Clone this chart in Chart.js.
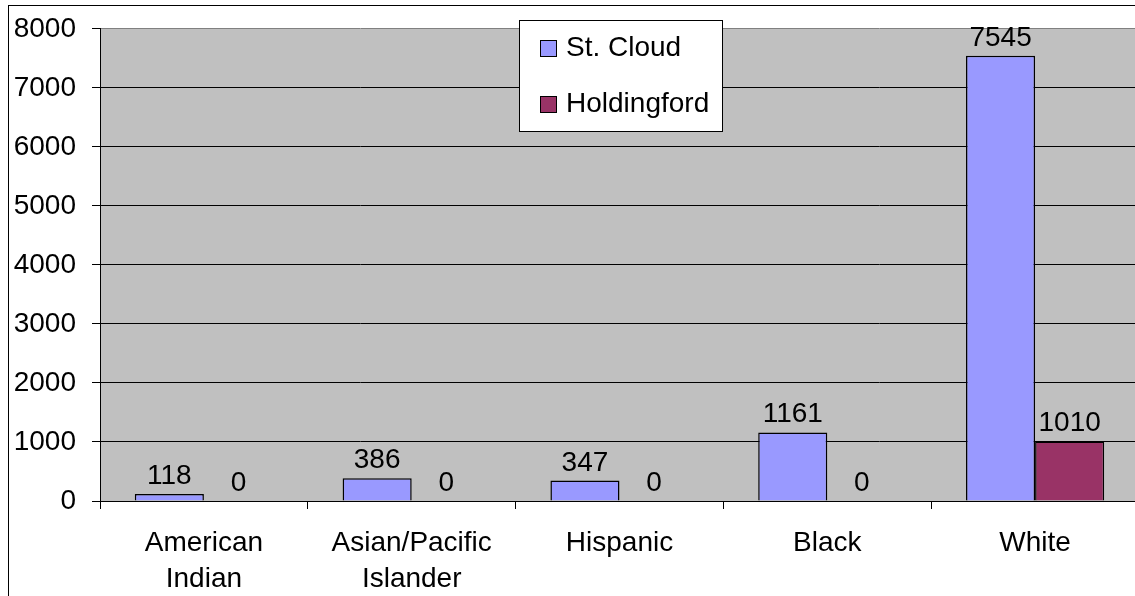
<!DOCTYPE html>
<html>
<head>
<meta charset="utf-8">
<script src="https://cdn.jsdelivr.net/npm/chart.js@4.4.1/dist/chart.umd.min.js"></script>
<style>
    html, body { margin: 0; padding: 0; background: #fff; }
    #wrap { position: relative; width: 1135px; height: 596px; overflow: hidden; }
    #frame { position: absolute; left: 8px; top: 5px; width: 1200px; height: 700px;
             border-left: 1px solid #000; border-top: 1px solid #000; }
    #chart { position: absolute; left: 0; top: -4px; }
</style>
</head>
<body>
<div id="wrap">
    <div id="frame"></div>
    <canvas id="chart" width="1139" height="600"></canvas>
</div>
<script>
const categories = [['American', 'Indian'], ['Asian/Pacific', 'Islander'], 'Hispanic', 'Black', 'White'];
const stCloud = [118, 386, 347, 1161, 7545];
const holdingford = [0, 0, 0, 0, 1010];
const seriesNames = ['St. Cloud', 'Holdingford'];

const FONT = '"Liberation Sans", Arial, sans-serif';
const SHIFT = 4; // o canvas está 4px acima da janela

// fundo cinza da área do gráfico
const plotBackground = {
    id: 'plotBackground',
    beforeDraw(chart) {
        const { ctx, chartArea: a } = chart;
        ctx.save();
        ctx.fillStyle = '#C0C0C0';
        ctx.fillRect(a.left, a.top, a.right - a.left, a.bottom - a.top);
        ctx.restore();
    }
};

// rótulos de valores acima das barras
const valueLabels = {
    id: 'valueLabels',
    afterDatasetsDraw(chart) {
        const ctx = chart.ctx;
        ctx.save();
        ctx.font = '28px ' + FONT;
        ctx.fillStyle = '#000';
        ctx.textAlign = 'center';
        ctx.textBaseline = 'alphabetic';
        chart.data.datasets.forEach((ds, i) => {
            chart.getDatasetMeta(i).data.forEach((bar, j) => {
                ctx.fillText(String(ds.data[j]), bar.x, bar.y - 10);
            });
        });
        ctx.restore();
    }
};

// legenda em caixa branca
const boxLegend = {
    id: 'boxLegend',
    afterDraw(chart) {
        const ctx = chart.ctx;
        ctx.save();
        ctx.fillStyle = '#fff';
        ctx.fillRect(519, 20 + SHIFT, 203, 111);
        ctx.strokeStyle = '#000';
        ctx.lineWidth = 1;
        ctx.strokeRect(519.5, 20.5 + SHIFT, 203, 111);
        ctx.font = '28px ' + FONT;
        ctx.textBaseline = 'middle';
        ctx.textAlign = 'left';
        const rows = [48, 104];
        chart.data.datasets.forEach((ds, i) => {
            const y = rows[i] + SHIFT;
            ctx.fillStyle = ds.backgroundColor;
            ctx.fillRect(540, y - 8, 17, 17);
            ctx.strokeStyle = '#000';
            ctx.strokeRect(540.5, y - 7.5, 16, 16);
            ctx.fillStyle = '#000';
            ctx.fillText(ds.label, 566, y);
        });
        ctx.restore();
    }
};

new Chart(document.getElementById('chart'), {
    type: 'bar',
    data: {
        labels: categories,
        datasets: [
            { label: seriesNames[0], data: stCloud, backgroundColor: '#9999FF', borderColor: '#000', borderWidth: 1.5 },
            { label: seriesNames[1], data: holdingford, backgroundColor: '#993366', borderColor: '#000', borderWidth: 1.5 }
        ]
    },
    options: {
        responsive: false,
        animation: false,
        devicePixelRatio: 1,
        layout: { padding: { top: 24, right: 0, left: 0, bottom: 0 } },
        categoryPercentage: 0.665,
        barPercentage: 1,
        plugins: {
            legend: { display: false },
            tooltip: { enabled: false }
        },
        scales: {
            x: {
                grid: { drawOnChartArea: false, drawTicks: true, tickLength: 8, color: '#000', offset: true },
                border: { display: true, color: '#000' },
                ticks: { color: '#000', font: { family: FONT, size: 28, lineHeight: 1.29 }, padding: 16, maxRotation: 0, autoSkip: false },
                afterFit(scale) { scale.height = 95; }
            },
            y: {
                min: 0,
                max: 8000,
                ticks: { stepSize: 1000, color: '#000', font: { family: FONT, size: 28 }, padding: 16, callback: v => String(v) },
                grid: {
                    color: ctx => (ctx.tick && ctx.tick.value === 8000 ? '#808080' : '#000'),
                    tickColor: '#000',
                    tickLength: 8
                },
                border: { display: true, color: '#000' },
                afterFit(scale) { scale.width = 100; }
            }
        }
    },
    plugins: [plotBackground, valueLabels, boxLegend]
});
</script>
</body>
</html>
